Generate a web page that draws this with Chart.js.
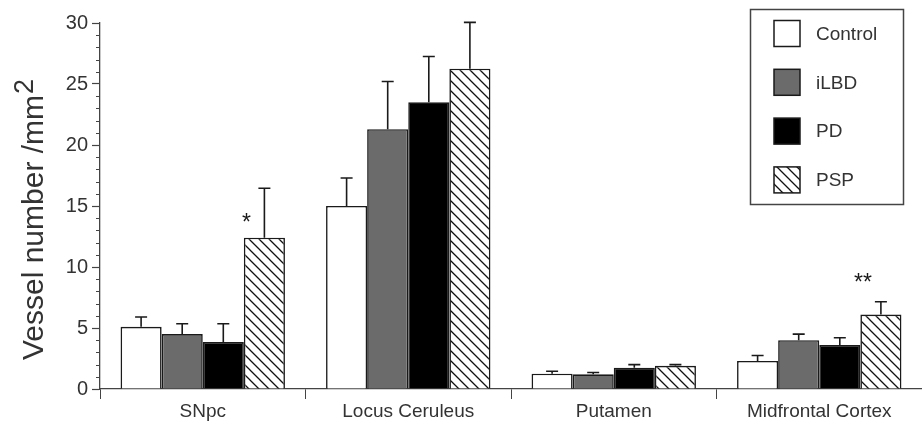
<!DOCTYPE html>
<html>
<head>
<meta charset="utf-8">
<script src="https://cdn.jsdelivr.net/npm/chart.js@4.4.0/dist/chart.umd.min.js"></script>
<style>
  html, body { margin: 0; padding: 0; background: #fff; overflow: hidden; }
  canvas { display: block; }
</style>
</head>
<body>
<canvas id="chart" width="922" height="426"></canvas>
<script>
/* -------------------------
   DATA
------------------------- */
const regions = ["SNpc", "Locus Ceruleus", "Putamen", "Midfrontal Cortex"];
const groups = ["Control", "iLBD", "PD", "PSP"];

const controlMean = [5.1, 15.0, 1.25, 2.3];
const ilbdMean    = [4.5, 21.3, 1.2, 4.0];
const pdMean      = [3.85, 23.5, 1.75, 3.6];
const pspMean     = [12.4, 26.25, 1.9, 6.1];

const controlErr = [0.8, 2.3, 0.2, 0.45];
const ilbdErr    = [0.85, 3.9, 0.15, 0.5];
const pdErr      = [1.5, 3.75, 0.25, 0.6];
const pspErr     = [4.05, 3.8, 0.1, 1.05];

// significance marks above PSP bars (text, level in y units)
const sigText  = ["*", "", "", "**"];
const sigLevel = [14.1, null, null, 9.2];

const yTicks = [0, 5, 10, 15, 20, 25, 30];

/* -------------------------
   STYLES
------------------------- */
const INK = "#1a1a1a";
const AXIS = "#444";
const TEXT = "#333";
const FONT = "'Liberation Sans', Arial, Helvetica, sans-serif";

function hatchPattern() {
  const c = document.createElement("canvas");
  c.width = 10; c.height = 10;
  const g = c.getContext("2d");
  g.fillStyle = "#fff";
  g.fillRect(0, 0, 10, 10);
  g.strokeStyle = "#111";
  g.lineWidth = 1.3;
  g.beginPath();
  g.moveTo(-2, -2); g.lineTo(12, 12);
  g.moveTo(-2, 8); g.lineTo(2, 12);
  g.moveTo(8, -2); g.lineTo(12, 2);
  g.stroke();
  return g.createPattern(c, "repeat");
}

const fills = ["#ffffff", "#6b6b6b", "#000000", hatchPattern()];
const means = [controlMean, ilbdMean, pdMean, pspMean];
const errs = [controlErr, ilbdErr, pdErr, pspErr];

/* -------------------------
   PLUGINS
------------------------- */
const extras = {
  id: "extras",
  afterDatasetsDraw(chart) {
    const ctx = chart.ctx;
    const y = chart.scales.y;

    // error bars (upper only)
    ctx.save();
    ctx.strokeStyle = INK;
    ctx.lineWidth = 1.6;
    chart.data.datasets.forEach((ds, di) => {
      const meta = chart.getDatasetMeta(di);
      meta.data.forEach((bar, i) => {
        const top = y.getPixelForValue(ds.data[i] + ds.errors[i]);
        ctx.beginPath();
        ctx.moveTo(bar.x, bar.y);
        ctx.lineTo(bar.x, top);
        ctx.moveTo(bar.x - 6, top);
        ctx.lineTo(bar.x + 6, top);
        ctx.stroke();
      });
    });

    // significance stars
    const pspMeta = chart.getDatasetMeta(3);
    ctx.fillStyle = INK;
    ctx.font = "23px " + FONT;
    ctx.textAlign = "center";
    ctx.textBaseline = "alphabetic";
    sigText.forEach((t, i) => {
      if (!t) return;
      const bar = pspMeta.data[i];
      ctx.fillText(t, bar.x - 18, y.getPixelForValue(sigLevel[i]) + 13);
    });
    ctx.restore();
  },
  afterDraw(chart) {
    const ctx = chart.ctx;
    const y = chart.scales.y;
    const area = chart.chartArea;

    // minor ticks on the y axis
    ctx.save();
    ctx.strokeStyle = AXIS;
    ctx.lineWidth = 1;
    for (let v = y.min; v <= y.max; v++) {
      if (v % 5 === 0) continue;
      const py = Math.round(y.getPixelForValue(v)) + 0.5;
      ctx.beginPath();
      ctx.moveTo(area.left - 4, py);
      ctx.lineTo(area.left, py);
      ctx.stroke();
    }

    // y axis title with superscript
    const main = "Vessel number /mm";
    ctx.translate(43, 220);
    ctx.rotate(-Math.PI / 2);
    ctx.fillStyle = TEXT;
    ctx.font = "30px " + FONT;
    const w1 = ctx.measureText(main).width;
    ctx.font = "27px " + FONT;
    const w2 = ctx.measureText("2").width;
    const x0 = -(w1 + w2) / 2;
    ctx.textAlign = "left";
    ctx.textBaseline = "alphabetic";
    ctx.font = "30px " + FONT;
    ctx.fillText(main, x0, 0);
    ctx.font = "27px " + FONT;
    ctx.fillText("2", x0 + w1 + 1, -10);
    ctx.restore();

    // legend box
    ctx.save();
    ctx.strokeStyle = AXIS;
    ctx.lineWidth = 1.5;
    ctx.strokeRect(750.5, 9.5, 153, 195);
    ctx.font = "19px " + FONT;
    ctx.textAlign = "left";
    ctx.textBaseline = "middle";
    chart.data.datasets.forEach((ds, i) => {
      const cy = 33.5 + i * 48.8;
      ctx.fillStyle = ds.backgroundColor;
      ctx.fillRect(774, cy - 13, 26, 26);
      ctx.strokeStyle = INK;
      ctx.lineWidth = 1.5;
      ctx.strokeRect(774, cy - 13, 26, 26);
      ctx.fillStyle = TEXT;
      ctx.fillText(ds.label, 816, cy + 1);
    });
    ctx.restore();
  }
};

/* -------------------------
   CHART
------------------------- */
new Chart(document.getElementById("chart").getContext("2d"), {
  type: "bar",
  data: {
    labels: regions,
    datasets: groups.map((g, i) => ({
      label: g,
      data: means[i],
      errors: errs[i],
      backgroundColor: fills[i],
      borderColor: INK,
      borderWidth: 1.6,
      categoryPercentage: 0.8,
      barPercentage: 1.0
    }))
  },
  options: {
    responsive: false,
    animation: false,
    devicePixelRatio: 1,
    layout: { padding: { top: 23, left: 0, right: 0, bottom: 0 } },
    plugins: {
      legend: { display: false },
      tooltip: { enabled: false }
    },
    scales: {
      x: {
        afterFit: s => { s.height = 37; },
        border: { color: AXIS, width: 1.3 },
        grid: {
          offset: true,
          drawOnChartArea: false,
          drawTicks: true,
          tickLength: 10,
          tickColor: AXIS,
          tickWidth: 1
        },
        ticks: {
          color: TEXT,
          padding: 1,
          font: { family: FONT, size: 19 }
        }
      },
      y: {
        min: 0,
        max: 30,
        afterFit: s => { s.width = 100; },
        afterBuildTicks: s => { s.ticks = yTicks.map(v => ({ value: v })); },
        border: { color: AXIS, width: 1.3 },
        grid: {
          drawOnChartArea: false,
          drawTicks: true,
          tickLength: 8,
          tickColor: AXIS,
          tickWidth: 1.2
        },
        ticks: {
          color: TEXT,
          padding: 4,
          font: { family: FONT, size: 20 }
        }
      }
    }
  },
  plugins: [extras]
});
</script>
</body>
</html>
